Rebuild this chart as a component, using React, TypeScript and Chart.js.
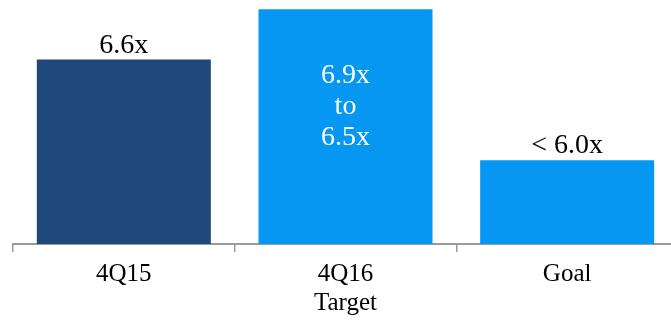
import React, { useEffect, useRef } from "react";
import { Chart, registerables } from "chart.js";

Chart.register(...registerables);

// Leverage multiples by period
const categories: string[][] = [["4Q15"], ["4Q16", "Target"], ["Goal"]];
const leverage: number[] = [6.6, 6.9, 6.0];
const barLabels: string[][] = [["6.6x"], ["6.9x", "to", "6.5x"], ["< 6.0x"]];
const labelInside: boolean[] = [false, true, false];
const barColors: string[] = ["#1F497D", "#0597F2", "#0597F2"];

const SERIF = "'Liberation Serif', 'Times New Roman', serif";

const valueLabelPlugin = {
  id: "valueLabels",
  afterDatasetsDraw(chart: any) {
    const ctx = chart.ctx;
    const meta = chart.getDatasetMeta(0);
    ctx.save();
    ctx.font = `28px ${SERIF}`;
    ctx.textAlign = "center";
    ctx.textBaseline = "alphabetic";
    meta.data.forEach((bar: any, i: number) => {
      const lines = barLabels[i];
      if (labelInside[i]) {
        ctx.fillStyle = "#ffffff";
        lines.forEach((line, j) => {
          ctx.fillText(line, bar.x, bar.y + 74 + j * 31);
        });
      } else {
        ctx.fillStyle = "#000000";
        ctx.fillText(lines[0], bar.x, bar.y - 7);
      }
    });
    ctx.restore();
  },
};

export default function App() {
  const canvasRef = useRef<HTMLCanvasElement | null>(null);

  useEffect(() => {
    if (!canvasRef.current) return;
    const chart = new Chart(canvasRef.current, {
      type: "bar",
      data: {
        labels: categories,
        datasets: [
          {
            data: leverage,
            backgroundColor: barColors,
            borderWidth: 0,
            barPercentage: 0.785,
            categoryPercentage: 1,
          },
        ],
      },
      options: {
        responsive: false,
        animation: false,
        devicePixelRatio: 1,
        layout: { padding: { left: 13, right: 22, top: 0, bottom: 0 } },
        plugins: {
          legend: { display: false },
          tooltip: { enabled: false },
        },
        scales: {
          x: {
            offset: true,
            grid: {
              offset: true,
              drawOnChartArea: false,
              drawTicks: true,
              tickLength: 8,
              color: "#9a9a9a",
              lineWidth: 1.5,
            },
            border: { display: true, color: "#9a9a9a", width: 2 },
            ticks: {
              color: "#000000",
              font: { family: SERIF, size: 25, lineHeight: 1.16 },
              padding: 8,
              maxRotation: 0,
              autoSkip: false,
            },
            afterFit(scale: any) {
              scale.height = 76;
            },
          },
          y: {
            display: false,
            min: 5.5,
            max: 6.955,
          },
        },
      },
      plugins: [valueLabelPlugin],
    });
    return () => chart.destroy();
  }, []);

  return (
    <div
      style={{
        position: "fixed",
        left: 0,
        top: 0,
        width: 671,
        height: 320,
        overflow: "hidden",
        background: "#ffffff",
      }}
    >
      <canvas
        ref={canvasRef}
        width={700}
        height={320}
        style={{ display: "block", width: 700, height: 320 }}
      />
    </div>
  );
}
